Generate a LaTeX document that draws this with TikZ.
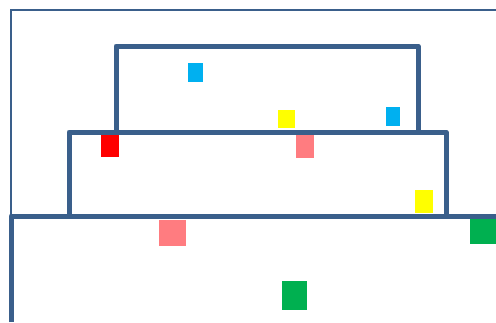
\documentclass[tikz,border=0pt]{standalone}
\usepackage{tikz}
\definecolor{wallblue}{HTML}{3A5F8B}
\definecolor{tilecyan}{HTML}{00B0F0}
\definecolor{tileyellow}{HTML}{FFFF00}
\definecolor{tilered}{HTML}{FF0000}
\definecolor{tilesalmon}{HTML}{FF7C80}
\definecolor{tilegreen}{HTML}{00B050}
\tikzset{wall/.style={draw=wallblue,line width=5pt,line join=round},frame/.style={draw=wallblue,line width=1.2pt},tile/.style={rectangle,draw=none,inner sep=0pt,outer sep=0pt}}

\begin{document}
\begin{tikzpicture}[x=1pt,y=-1pt]
\useasboundingbox (0,0) rectangle (496,322);
\draw[frame] (496,10)--(11,10)--(11,216);
\draw[wall] (116,132)--(116,46)--(418,46)--(418,132);
\draw[wall] (69,216)--(69,132)--(446,132)--(446,216);
\draw[wall] (11,322)--(11,216)--(496,216);
\foreach \n/\x/\y/\w/\h/\c in {c1/195.5/72.5/15/19/tilecyan,r1/110/146/18/22/tilered,y1/286.5/119/17/18/tileyellow,c2/393/116.5/14/19/tilecyan,s1/305/146.5/18/23/tilesalmon,s2/172.5/233/27/26/tilesalmon,y2/424/201.5/18/23/tileyellow,g1/483/231.5/26/25/tilegreen,g2/294.5/295.5/25/29/tilegreen}{\node[tile,fill=\c,minimum width=\w pt,minimum height=\h pt] (\n) at (\x,\y) {};}
\end{tikzpicture}
\end{document}
